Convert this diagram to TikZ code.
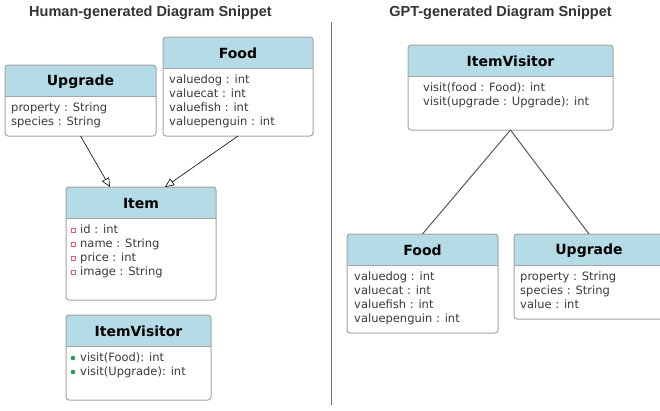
\documentclass[tikz,border=0pt]{standalone}
\usepackage{fontspec}
\setmainfont{DejaVu Sans}
\newfontfamily\titlefont{Liberation Sans}
\usepackage{xcolor}
\usepackage{tikz}
\usetikzlibrary{arrows.meta}
\definecolor{head}{HTML}{B5DCE6}
\definecolor{frame}{HTML}{A3A3A3}
\definecolor{member}{HTML}{3A3A3A}
\definecolor{priv}{HTML}{E0606E}
\definecolor{pub}{HTML}{2E9A5A}
\definecolor{title}{HTML}{333333}
\tikzset{
  classbox/.style={fill=white, inner sep=0pt, outer sep=0pt, anchor=north west},
  frameline/.style={draw=frame, line width=1pt},
  classname/.style={font=\fontsize{14}{16}\selectfont\bfseries, text=black},
  attr/.style={font=\fontsize{11.5}{14}\selectfont, text=member, anchor=west,
    inner sep=0pt, text height=8.5pt, text depth=2.5pt},
  heading/.style={font=\titlefont\fontsize{14.5}{17}\selectfont\bfseries, text=title},
  inherit/.style={-{Triangle[open,length=9pt,width=8pt]}, line width=0.6pt},
  assoc/.style={line width=1pt, draw=black!65},
  privmark/.style={draw=priv, line width=0.7pt},
  pubmark/.style={fill=pub}
}

% class box: name, left, top, width, height, class name
\newcommand{\umlclass}[6]{%
  \node[classbox, minimum width=#4pt, minimum height=#5pt] (#1) at (#2,#3) {};
  \begin{scope}
    \clip[rounded corners=3pt] (#1.north west) rectangle (#1.south east);
    \fill[head] (#1.north west) rectangle ([yshift=-31pt]#1.north east);
  \end{scope}
  \draw[frameline] ([yshift=-31pt]#1.north west) -- ([yshift=-31pt]#1.north east);
  \draw[frameline, rounded corners=3pt] (#1.north west) rectangle (#1.south east);
  \node[classname] (#1-name) at ([yshift=-16.5pt]#1.north) {#6};
}

\begin{document}
\begin{tikzpicture}[x=1pt, y=-1pt]
\useasboundingbox (0,0) rectangle (660,410);
\fill[white] (0,0) rectangle (660,410);
\clip (0,0) rectangle (660,410);

% headings and divider
\node[heading] (hhuman) at (150.5,13) {Human-generated Diagram Snippet};
\node[heading] (hgpt) at (500.5,13) {GPT-generated Diagram Snippet};
\draw[black!55, line width=1.2pt] (331.5,22) -- (331.5,405);

% human version
\umlclass{lupgrade}{5}{65}{151}{71}{Upgrade}
\foreach \m [count=\i] in {property : String, species : String}
  \node[attr] (lupgrade-\i) at (11,94+14*\i) {\m};

\umlclass{lfood}{163}{37}{150}{99}{Food}
\foreach \m [count=\i] in {valuedog : int, valuecat : int, valuefish : int, valuepenguin : int}
  \node[attr] (lfood-\i) at (169,66+14*\i) {\m};

\umlclass{item}{66}{187}{150}{113}{Item}
\foreach \m [count=\i] in {id : int, name : String, price : int, image : String}{
  \node[attr] (item-\i) at (80,216+14*\i) {\m};
  \draw[privmark] (71,214+14*\i) rectangle (75,218+14*\i);
}

\umlclass{lvisitor}{66}{315}{145}{85}{ItemVisitor}
\foreach \m [count=\i] in {visit(Food): int, visit(Upgrade): int}{
  \node[attr] (lvisitor-\i) at (80,344+14*\i) {\m};
  \fill[pubmark] (73,344+14*\i) circle (2.3);
}

\draw[inherit] (lupgrade.south) -- ([xshift=-31pt]item.north);
\draw[inherit] (lfood.south) -- ([xshift=24pt]item.north);

% gpt version
\umlclass{rvisitor}{408}{45}{205}{85}{ItemVisitor}
\foreach \m [count=\i] in {visit(food : Food): int, visit(upgrade : Upgrade): int}
  \node[attr] (rvisitor-\i) at (423,74+14*\i) {\m};

\umlclass{rfood}{347}{234}{151}{99}{Food}
\foreach \m [count=\i] in {valuedog : int, valuecat : int, valuefish : int, valuepenguin : int}
  \node[attr] (rfood-\i) at (354,263+14*\i) {\m};

\umlclass{rupgrade}{514}{234}{150}{85}{Upgrade}
\foreach \m [count=\i] in {property : String, species : String, value : int}
  \node[attr] (rupgrade-\i) at (520,263+14*\i) {\m};

\draw[assoc] (rvisitor.south) -- (rfood.north);
\draw[assoc] (rvisitor.south) -- (rupgrade.north);
\end{tikzpicture}
\end{document}
